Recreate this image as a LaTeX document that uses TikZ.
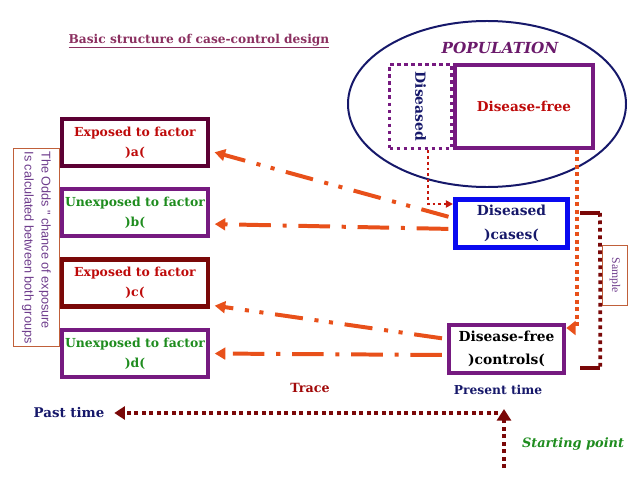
\documentclass[tikz,border=0pt]{standalone}
\usepackage{fontspec}
\setmainfont{DejaVu Serif}
\newfontfamily\oddsfont{Liberation Sans}
\newfontfamily\samplefont{Liberation Serif}
\usepackage{graphicx}
\usepackage{tikz}
\usetikzlibrary{arrows.meta,shapes}
\definecolor{navyc}{HTML}{16186A}
\definecolor{titlec}{HTML}{8B3060}
\definecolor{popc}{HTML}{6B1A6B}
\definecolor{purpc}{HTML}{761A80}
\definecolor{redc}{HTML}{BE0A0A}
\definecolor{greenc}{HTML}{1E8C1E}
\definecolor{maroonc}{HTML}{5C0033}
\definecolor{darkredc}{HTML}{7A0808}
\definecolor{bluec}{HTML}{0A0AF0}
\definecolor{arrowc}{HTML}{E8501A}
\definecolor{oddsc}{HTML}{C0603A}
\definecolor{oddtext}{HTML}{6E3C8C}
\newcommand{\boxlw}{3.5pt}
\newcommand{\dotlw}{3.2pt}

\begin{document}
\begin{tikzpicture}[x=0.03cm,y=-0.03cm]
    \tikzset{
        factor/.style={draw, line width=\boxlw, minimum width=4.38cm, minimum height=1.41cm,
            align=center, inner sep=0pt, font=\bfseries\fontsize{10.6}{17}\selectfont},
        group/.style={draw, line width=4pt, minimum width=3.4cm, minimum height=1.44cm,
            align=center, inner sep=0pt, font=\bfseries\fontsize{11.8}{20}\selectfont},
        tracedd/.style={arrowc, line width=3.4pt, shorten <=4pt, shorten >=4pt,
            dash pattern=on 24pt off 10pt on 3.5pt off 9pt on 3.5pt off 10pt,
            -{Triangle[length=9pt,width=10pt]}},
        traced/.style={arrowc, line width=3.4pt, shorten <=4pt, shorten >=4pt,
            dash pattern=on 27pt off 10pt on 3.5pt off 10pt,
            -{Triangle[length=9pt,width=10pt]}},
        dots/.style={line width=\dotlw, dash pattern=on 3.2pt off 3.2pt},
        label/.style={font=\bfseries\fontsize{10.8}{13}\selectfont},
        thinbox/.style={draw=oddsc, line width=0.8pt, inner sep=0pt}
    }
    \useasboundingbox (0,0) rectangle (638,479);

    \node[text=titlec, font=\bfseries\fontsize{10.4}{12}\selectfont] (title) at (199,41)
        {\underline{Basic structure of case-control design}};

    \node[ellipse, draw=navyc, line width=1.7pt, minimum width=8.34cm, minimum height=4.98cm] (pop) at (487,104) {};
    \node[text=popc, font=\bfseries\itshape\fontsize{13}{15}\selectfont] (poplabel) at (500,48) {POPULATION};

    \node[draw=purpc, line width=2.6pt, dash pattern=on 3pt off 3pt, minimum width=1.86cm, minimum height=2.52cm,
        inner sep=0pt, text=navyc, font=\bfseries\fontsize{11.9}{14}\selectfont] (dis) at (420.5,106.5)
        {\rotatebox{-90}{Diseased}};
    \node[draw=purpc, line width=3pt, minimum width=4.15cm, minimum height=2.5cm, inner sep=0pt,
        text=redc, font=\bfseries\fontsize{11.6}{14}\selectfont] (free) at (524,106.5) {Disease-free};

    \node[group, draw=bluec, text=navyc, minimum width=3.37cm, minimum height=1.45cm] (cases) at (511.5,223.5)
        {Diseased\\)cases(};
    \node[group, draw=purpc, text=black, minimum width=3.45cm] (controls) at (506.5,349)
        {Disease-free\\)controls(};

    \node[factor, draw=maroonc, text=redc] (a) at (135,142.5) {Exposed to factor\\)a(};
    \node[factor, draw=purpc, text=greenc] (b) at (135,212.5) {Unexposed to factor\\)b(};
    \node[factor, draw=darkredc, text=redc] (c) at (135,283) {Exposed to factor\\)c(};
    \node[factor, draw=purpc, text=greenc] (d) at (135,353.5) {Unexposed to factor\\)d(};

    \node[thinbox, minimum width=1.38cm, minimum height=5.94cm, text=oddtext,
        font=\oddsfont\fontsize{10.8}{14.5}\selectfont] (odds) at (36.5,247.5)
        {\rotatebox{-90}{\begin{tabular}{@{}l@{}}The Odds " chance of exposure\\Is calculated between both groups\end{tabular}}};
    \node[thinbox, minimum width=0.75cm, minimum height=1.8cm, text=oddtext,
        font=\samplefont\fontsize{10}{12}\selectfont] (sample) at (615,275.5) {\rotatebox{-90}{Sample}};

    \draw[tracedd] ([yshift=0.165cm]cases.west) -- ([yshift=-0.255cm]a.east);
    \draw[traced] ([yshift=-0.165cm]cases.west) -- ([yshift=-0.345cm]b.east);
    \draw[tracedd] ([yshift=0.3cm]controls.west) -- ([yshift=-0.66cm]c.east);
    \draw[traced] ([yshift=-0.18cm]controls.west) -- (d.east);

    \draw[redc!80!arrowc, line width=2.4pt, dash pattern=on 2.4pt off 2.6pt, -{Triangle[length=6pt,width=6pt]}]
        ([xshift=0.225cm]dis.south) |- ([yshift=0.585cm]cases.west);
    \draw[arrowc, dots, -{Triangle[length=8pt,width=12pt]}]
        ([xshift=1.59cm]free.south) |- ([yshift=0.63cm]controls.east);

    \draw[darkredc, line width=\dotlw] ([xshift=0.3cm,yshift=0.315cm]cases.east) -- ++(20,0) coordinate (s1);
    \draw[darkredc, line width=\dotlw] ([xshift=0.42cm,yshift=-0.57cm]controls.east) -- ++(20,0) coordinate (s2);
    \draw[darkredc, dots] (s1) -- (s2);

    \node[label, text=navyc, font=\bfseries\fontsize{11.4}{13}\selectfont] (past) at (69,413) {Past time};
    \node[label, text=navyc, font=\bfseries\fontsize{10.5}{13}\selectfont] (present) at (498,390) {Present time};
    \node[label, text=redc!85!black] (trace) at (310,388) {Trace};
    \node[label, text=greenc, font=\bfseries\itshape\fontsize{11}{13}\selectfont] (startlabel) at (573,444) {Starting point};
    \coordinate (now) at (504,409);
    \coordinate (start) at (504,468);
    \draw[darkredc, dots, shorten >=5pt, -{Triangle[length=9pt,width=11pt]}] ([shift={(-6,4)}]now) -- (past.east);
    \draw[darkredc, dots, -{Triangle[length=10pt,width=12pt]}] (start) -- (now);
\end{tikzpicture}
\end{document}
